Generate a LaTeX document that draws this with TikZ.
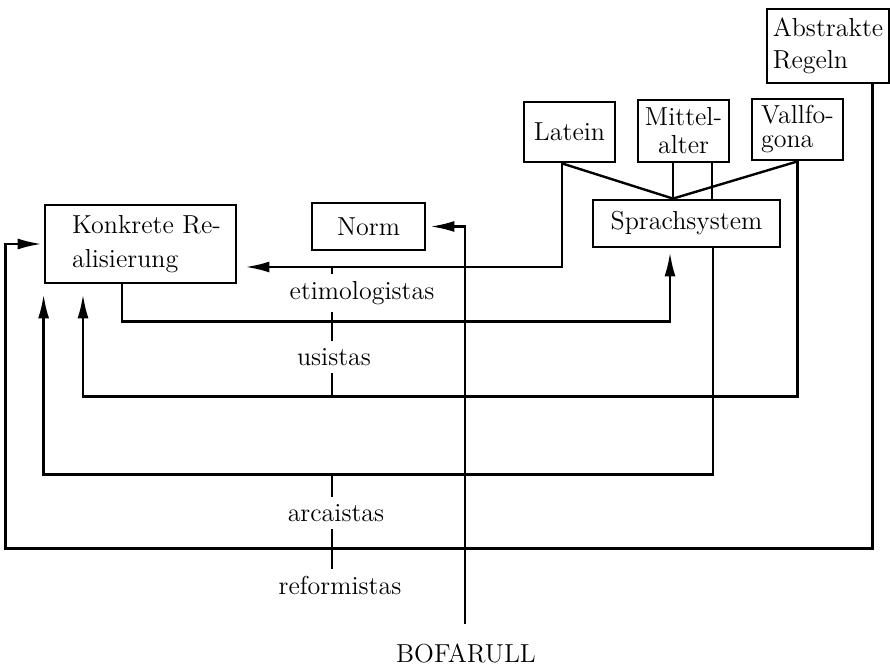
\documentclass[tikz,border=0pt]{standalone}
\usepackage{fontspec}
\usetikzlibrary{calc,arrows.meta}
\newcommand{\diagfont}{\fontsize{13}{15}\selectfont}

\begin{document}
\begin{tikzpicture}[x=0.5pt,y=-0.5pt,line width=1.2pt,
    kasten/.style={draw,line width=1.4pt,inner sep=0pt,align=left,font=\diagfont},
    schule/.style={inner sep=3pt,font=\diagfont},
    pfeil/.style={-{Latex[length=12pt,width=5.5pt]},shorten >=2pt}]
\useasboundingbox (0,0) rectangle (890,667);

% Kaesten
\node[kasten,minimum width=95.5pt,minimum height=39pt] (konkret) at (140.5,244) {\hspace*{6pt}Konkrete Re-\\[2pt]\hspace*{6pt}alisierung};
\node[kasten,minimum width=56.5pt,minimum height=23.5pt] (norm) at (368.5,226.5) {Norm};
\node[kasten,minimum width=93.5pt,minimum height=23.5pt] (sprach) at (686.5,223.5) {Sprachsystem};
\node[kasten,minimum width=45.5pt,minimum height=30pt] (latein) at (569.5,132) {Latein};
\node[kasten,align=center,minimum width=45.5pt,minimum height=31pt] (mittel) at (683.5,131) {Mittel-\\[-1pt]alter};
\node[kasten,minimum width=45.5pt,minimum height=30.5pt] (vallfo) at (797.5,129.5) {Vallfo-\\[-3pt]gona};
\node[kasten,minimum width=61pt,minimum height=37pt] (abstrakt) at (828,46) {Abstrakte\\[1pt]Regeln};

% Schulen
\node[schule] (etim) at (362,293) {etimologistas};
\node[schule] (usis) at (334,357) {usistas};
\node[schule] (arca) at (336,513) {arcaistas};
\node[schule] (refo) at (340,585) {reformistas};
\node[inner sep=0pt,font=\diagfont] (bofarull) at (466,653) {BOFARULL};

% Quellen -> Sprachsystem
\coordinate (knoten) at ($(sprach.north)+(-13.5,0)$);
\coordinate (latFuss) at ($(latein.south)+(-7.5,0)$);
\coordinate (mitFuss) at ($(mittel.south)+(28.5,0)$);
\draw (latFuss) -- (knoten);
\draw ($(mittel.south)+(-10.5,0)$) -- (knoten);
\draw (vallfo.south) -- (knoten);
\draw (mitFuss) -- (mitFuss |- sprach.north);

% Verbindungen
\draw[pfeil,shorten >=4pt] (latFuss) |- ($(konkret.east)+(0,23)$) coordinate (etOben);
\draw[pfeil] ($(konkret.south)+(-18.5,0)$) -- ++(0,37) -| ($(sprach.south)+(-16.5,0)$);
\draw[pfeil,shorten >=5pt] (vallfo.south) -- ++(0,235) coordinate (usUnten) -| ($(konkret.south)+(-57.5,0)$);
\draw[pfeil,shorten >=5pt] ($(sprach.south)+(26.5,0)$) -- ++(0,226) coordinate (arOben) -| (konkret.south west);
\draw[pfeil,shorten >=1pt] ($(abstrakt.south)+(44.5,0)$) -- ++(0,464) -| ($(konkret.west)+(-38,0)$) -- (konkret.west);
\draw[pfeil] ($(bofarull.north)+(-1,-18)$) |- (norm.east);

% Achse der Schulen
\coordinate (achse) at (332,0);
\draw (achse |- etOben) -- (achse |- etim.north);
\draw (achse |- etim.south) -- (achse |- usis.north);
\draw (achse |- usis.south) -- (achse |- usUnten);
\draw (achse |- arOben) -- (achse |- arca.north);
\draw (achse |- arca.south) -- (achse |- refo.north);
\end{tikzpicture}
\end{document}
